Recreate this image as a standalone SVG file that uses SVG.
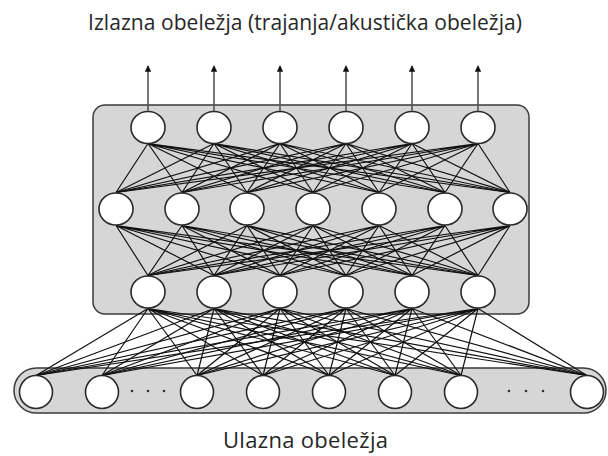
<svg xmlns="http://www.w3.org/2000/svg" width="608" height="456" viewBox="0 0 608 456">
  <style>
    .label { font-family: "Open Sans", "Noto Sans", sans-serif; fill: #262626; text-anchor: middle; }
    .panel { fill: #d6d6d6; stroke: #3a3a3a; stroke-width: 1.5; }
    .unit { fill: #ffffff; stroke: #2a2a2a; stroke-width: 1.6; }
    .link { stroke: #111111; stroke-width: 1.2; fill: none; }
    .out { stroke: #555555; stroke-width: 1.6; fill: none; }
    .dot { fill: #333333; }
  </style>
  <defs>
    <marker id="tip" viewBox="0 0 10 10" refX="9" refY="5" markerWidth="4" markerHeight="4" orient="auto">
      <path d="M0,0 L10,5 L0,10 z" fill="#111"/>
    </marker>
  </defs>

  <rect fill="#ffffff" x="0" y="0" width="608" height="456"/>

  <text class="label" x="305" y="30" font-size="21" textLength="434" lengthAdjust="spacing">Izlazna obeležja (trajanja/akustička obeležja)</text>
  <text class="label" x="305.5" y="448" font-size="22" textLength="165" lengthAdjust="spacing">Ulazna obeležja</text>

  <!-- panels behind the layers -->
  <rect id="network-panel" class="panel" x="93" y="105" width="436" height="209" rx="12"/>
  <rect id="input-panel" class="panel" x="14" y="368" width="592" height="45" rx="22.5"/>

  <!-- all connectors -->
  <g id="connectors">
    <!-- output layer (y 143.5) to hidden layer 1 (y 192.5) -->
    <g id="out-h1">
      <path class="link" d="M148,143.5 L116,192.5 M148,143.5 L182,192.5 M148,143.5 L247,192.5 M148,143.5 L313,192.5 M148,143.5 L379,192.5 M148,143.5 L445,192.5 M148,143.5 L510,192.5"/>
      <path class="link" d="M214,143.5 L116,192.5 M214,143.5 L182,192.5 M214,143.5 L247,192.5 M214,143.5 L313,192.5 M214,143.5 L379,192.5 M214,143.5 L445,192.5 M214,143.5 L510,192.5"/>
      <path class="link" d="M280,143.5 L116,192.5 M280,143.5 L182,192.5 M280,143.5 L247,192.5 M280,143.5 L313,192.5 M280,143.5 L379,192.5 M280,143.5 L445,192.5 M280,143.5 L510,192.5"/>
      <path class="link" d="M346,143.5 L116,192.5 M346,143.5 L182,192.5 M346,143.5 L247,192.5 M346,143.5 L313,192.5 M346,143.5 L379,192.5 M346,143.5 L445,192.5 M346,143.5 L510,192.5"/>
      <path class="link" d="M412,143.5 L116,192.5 M412,143.5 L182,192.5 M412,143.5 L247,192.5 M412,143.5 L313,192.5 M412,143.5 L379,192.5 M412,143.5 L445,192.5 M412,143.5 L510,192.5"/>
      <path class="link" d="M478,143.5 L116,192.5 M478,143.5 L182,192.5 M478,143.5 L247,192.5 M478,143.5 L313,192.5 M478,143.5 L379,192.5 M478,143.5 L445,192.5 M478,143.5 L510,192.5"/>
    </g>
    <!-- hidden layer 1 (y 225.5) to hidden layer 2 (y 275.5) -->
    <g id="h1-h2">
      <path class="link" d="M116,225.5 L148,275.5 M116,225.5 L214,275.5 M116,225.5 L280,275.5 M116,225.5 L346,275.5 M116,225.5 L412,275.5 M116,225.5 L478,275.5"/>
      <path class="link" d="M182,225.5 L148,275.5 M182,225.5 L214,275.5 M182,225.5 L280,275.5 M182,225.5 L346,275.5 M182,225.5 L412,275.5 M182,225.5 L478,275.5"/>
      <path class="link" d="M247,225.5 L148,275.5 M247,225.5 L214,275.5 M247,225.5 L280,275.5 M247,225.5 L346,275.5 M247,225.5 L412,275.5 M247,225.5 L478,275.5"/>
      <path class="link" d="M313,225.5 L148,275.5 M313,225.5 L214,275.5 M313,225.5 L280,275.5 M313,225.5 L346,275.5 M313,225.5 L412,275.5 M313,225.5 L478,275.5"/>
      <path class="link" d="M379,225.5 L148,275.5 M379,225.5 L214,275.5 M379,225.5 L280,275.5 M379,225.5 L346,275.5 M379,225.5 L412,275.5 M379,225.5 L478,275.5"/>
      <path class="link" d="M445,225.5 L148,275.5 M445,225.5 L214,275.5 M445,225.5 L280,275.5 M445,225.5 L346,275.5 M445,225.5 L412,275.5 M445,225.5 L478,275.5"/>
      <path class="link" d="M510,225.5 L148,275.5 M510,225.5 L214,275.5 M510,225.5 L280,275.5 M510,225.5 L346,275.5 M510,225.5 L412,275.5 M510,225.5 L478,275.5"/>
    </g>
    <!-- hidden layer 2 (y 308.5) to input layer (y 375.5) -->
    <g id="h2-in">
      <path class="link" d="M148,308.5 L36,375.5 M148,308.5 L102,375.5 M148,308.5 L197,375.5 M148,308.5 L263,375.5 M148,308.5 L329,375.5 M148,308.5 L395,375.5 M148,308.5 L461,375.5 M148,308.5 L587,375.5"/>
      <path class="link" d="M214,308.5 L36,375.5 M214,308.5 L102,375.5 M214,308.5 L197,375.5 M214,308.5 L263,375.5 M214,308.5 L329,375.5 M214,308.5 L395,375.5 M214,308.5 L461,375.5 M214,308.5 L587,375.5"/>
      <path class="link" d="M280,308.5 L36,375.5 M280,308.5 L102,375.5 M280,308.5 L197,375.5 M280,308.5 L263,375.5 M280,308.5 L329,375.5 M280,308.5 L395,375.5 M280,308.5 L461,375.5 M280,308.5 L587,375.5"/>
      <path class="link" d="M346,308.5 L36,375.5 M346,308.5 L102,375.5 M346,308.5 L197,375.5 M346,308.5 L263,375.5 M346,308.5 L329,375.5 M346,308.5 L395,375.5 M346,308.5 L461,375.5 M346,308.5 L587,375.5"/>
      <path class="link" d="M412,308.5 L36,375.5 M412,308.5 L102,375.5 M412,308.5 L197,375.5 M412,308.5 L263,375.5 M412,308.5 L329,375.5 M412,308.5 L395,375.5 M412,308.5 L461,375.5 M412,308.5 L587,375.5"/>
      <path class="link" d="M478,308.5 L36,375.5 M478,308.5 L102,375.5 M478,308.5 L197,375.5 M478,308.5 L263,375.5 M478,308.5 L329,375.5 M478,308.5 L395,375.5 M478,308.5 L461,375.5 M478,308.5 L587,375.5"/>
    </g>
    <!-- outputs leaving the network -->
    <g id="outputs">
      <line class="out" x1="148" y1="111" x2="148" y2="66" marker-end="url(#tip)"/>
      <line class="out" x1="214" y1="111" x2="214" y2="66" marker-end="url(#tip)"/>
      <line class="out" x1="280" y1="111" x2="280" y2="66" marker-end="url(#tip)"/>
      <line class="out" x1="346" y1="111" x2="346" y2="66" marker-end="url(#tip)"/>
      <line class="out" x1="412" y1="111" x2="412" y2="66" marker-end="url(#tip)"/>
      <line class="out" x1="478" y1="111" x2="478" y2="66" marker-end="url(#tip)"/>
    </g>
  </g>

  <!-- output layer -->
  <g id="o1"><ellipse class="unit" cx="148" cy="127.5" rx="17" ry="16"/></g>
  <g id="o2"><ellipse class="unit" cx="214" cy="127.5" rx="17" ry="16"/></g>
  <g id="o3"><ellipse class="unit" cx="280" cy="127.5" rx="17" ry="16"/></g>
  <g id="o4"><ellipse class="unit" cx="346" cy="127.5" rx="17" ry="16"/></g>
  <g id="o5"><ellipse class="unit" cx="412" cy="127.5" rx="17" ry="16"/></g>
  <g id="o6"><ellipse class="unit" cx="478" cy="127.5" rx="17" ry="16"/></g>

  <!-- hidden layer 1 -->
  <g id="a1"><ellipse class="unit" cx="116" cy="209" rx="17" ry="16"/></g>
  <g id="a2"><ellipse class="unit" cx="182" cy="209" rx="17" ry="16"/></g>
  <g id="a3"><ellipse class="unit" cx="247" cy="209" rx="17" ry="16"/></g>
  <g id="a4"><ellipse class="unit" cx="313" cy="209" rx="17" ry="16"/></g>
  <g id="a5"><ellipse class="unit" cx="379" cy="209" rx="17" ry="16"/></g>
  <g id="a6"><ellipse class="unit" cx="445" cy="209" rx="17" ry="16"/></g>
  <g id="a7"><ellipse class="unit" cx="510" cy="209" rx="17" ry="16"/></g>

  <!-- hidden layer 2 -->
  <g id="b1"><ellipse class="unit" cx="148" cy="292" rx="17" ry="16"/></g>
  <g id="b2"><ellipse class="unit" cx="214" cy="292" rx="17" ry="16"/></g>
  <g id="b3"><ellipse class="unit" cx="280" cy="292" rx="17" ry="16"/></g>
  <g id="b4"><ellipse class="unit" cx="346" cy="292" rx="17" ry="16"/></g>
  <g id="b5"><ellipse class="unit" cx="412" cy="292" rx="17" ry="16"/></g>
  <g id="b6"><ellipse class="unit" cx="478" cy="292" rx="17" ry="16"/></g>

  <!-- input layer -->
  <g id="i1"><ellipse class="unit" cx="36" cy="392" rx="16.5" ry="16.5"/></g>
  <g id="i2"><ellipse class="unit" cx="102" cy="392" rx="16.5" ry="16.5"/></g>
  <g id="i3"><ellipse class="unit" cx="197" cy="392" rx="16.5" ry="16.5"/></g>
  <g id="i4"><ellipse class="unit" cx="263" cy="392" rx="16.5" ry="16.5"/></g>
  <g id="i5"><ellipse class="unit" cx="329" cy="392" rx="16.5" ry="16.5"/></g>
  <g id="i6"><ellipse class="unit" cx="395" cy="392" rx="16.5" ry="16.5"/></g>
  <g id="i7"><ellipse class="unit" cx="461" cy="392" rx="16.5" ry="16.5"/></g>
  <g id="i8"><ellipse class="unit" cx="587" cy="392" rx="16.5" ry="16.5"/></g>

  <!-- ellipsis dots between input units -->
  <circle class="dot" cx="132" cy="391" r="1.3"/>
  <circle class="dot" cx="148" cy="391" r="1.3"/>
  <circle class="dot" cx="164" cy="391" r="1.3"/>
  <circle class="dot" cx="509" cy="391" r="1.3"/>
  <circle class="dot" cx="526" cy="391" r="1.3"/>
  <circle class="dot" cx="543" cy="391" r="1.3"/>
</svg>
